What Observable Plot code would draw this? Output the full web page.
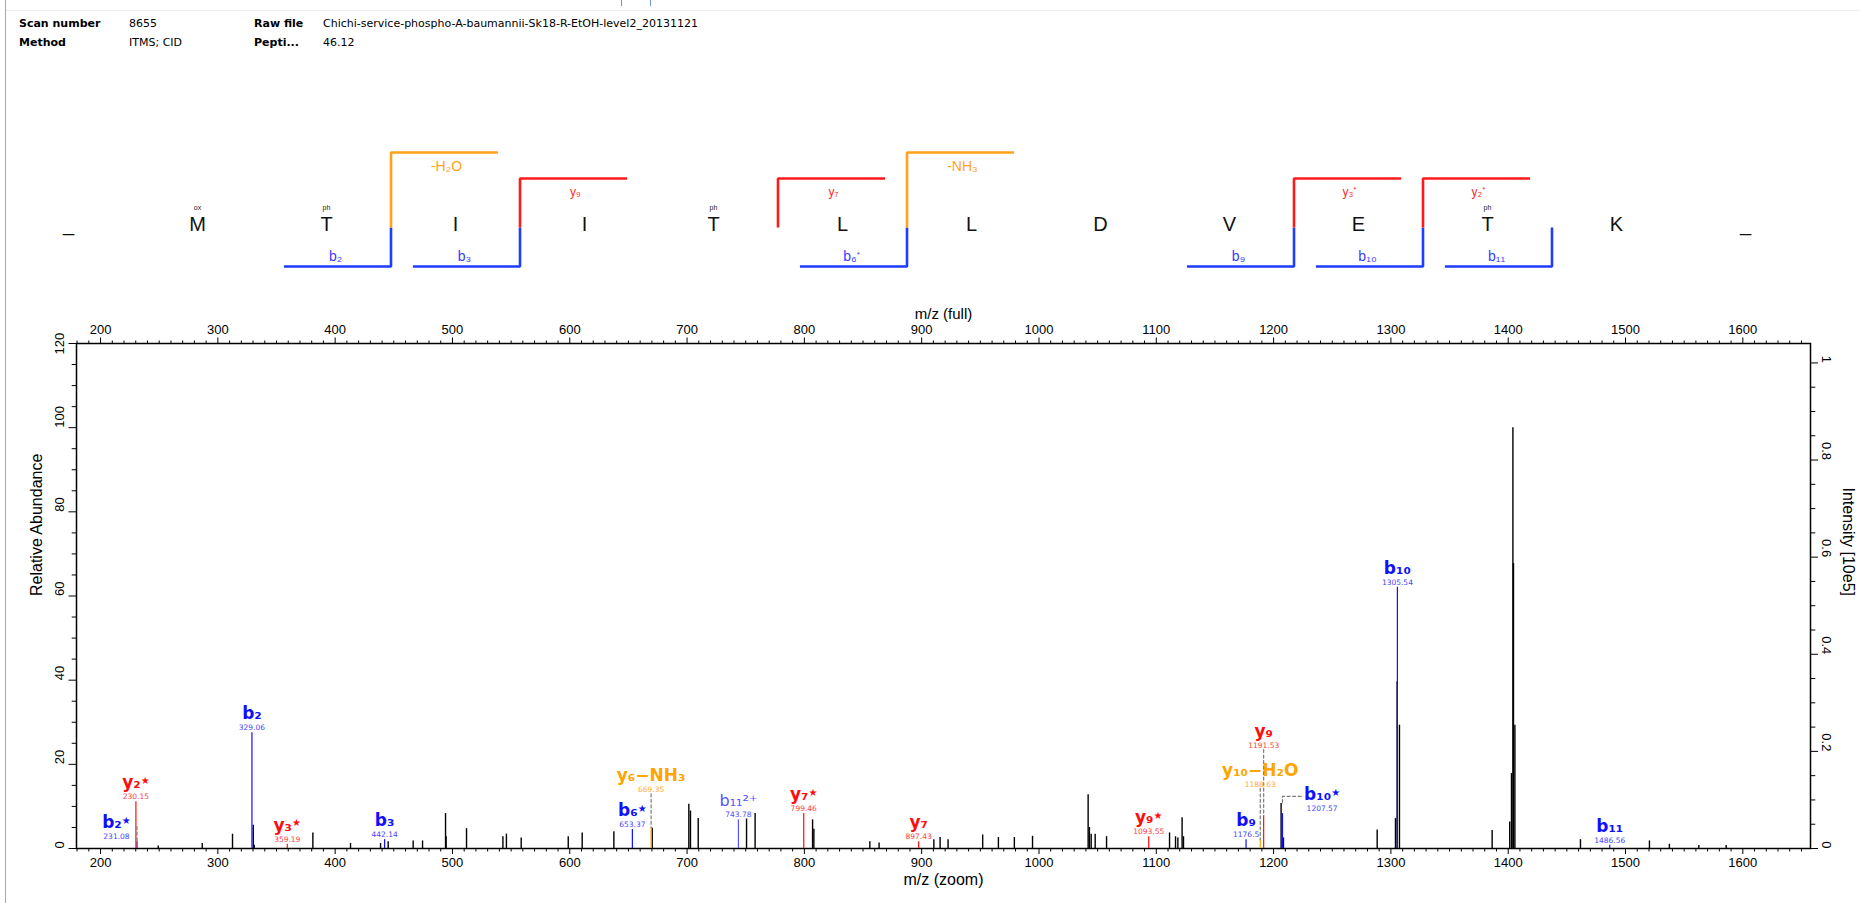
<!DOCTYPE html>
<html><head><meta charset="utf-8">
<script src="https://cdn.jsdelivr.net/npm/d3@7"></script>
<script src="https://cdn.jsdelivr.net/npm/@observablehq/plot@0.6"></script>
<style>
html,body{margin:0;padding:0;background:#fff;}
body{position:relative;width:1860px;height:903px;overflow:hidden;font-family:"DejaVu Sans",sans-serif;}
.deco{position:absolute;}
.hdr{position:absolute;font-size:11px;line-height:14px;white-space:nowrap;color:#000;}
.hdr.lab{font-weight:bold;}
#seq{position:absolute;left:0;top:130px;}
#spec{position:absolute;left:0;top:290px;}
svg{overflow:visible;}
</style></head>
<body>
<div class="deco" style="left:5px;top:0;width:1px;height:903px;background:#a8a8a8"></div>
<div class="deco" style="left:6px;top:10px;width:1854px;height:1px;background:#ececec"></div>
<div class="deco" style="left:621px;top:0;width:1px;height:6px;background:#7090e0"></div>
<div class="deco" style="left:650px;top:0;width:1px;height:6px;background:#7090e0"></div>
<div id="header"></div>
<div id="seq"></div>
<div id="spec"></div>
<script>
// ---------------- DATA ----------------
const headerKeys = ["Scan number", "Raw file", "Method", "Pepti..."];
const headerVals = ["8655", "Chichi-service-phospho-A-baumannii-Sk18-R-EtOH-level2_20131121", "ITMS; CID", "46.12"];

const residues = ["M", "T", "I", "I", "T", "L", "L", "D", "V", "E", "T", "K"];
const termini = ["_", "_"];
const modPositions = [1, 2, 5, 11];
const modNames = ["ox", "ph", "ph", "ph"];
const bSites = [2, 3, 6, 9, 10, 11];
const bSiteNames = ["b₂", "b₃", "b₆*", "b₉", "b₁₀", "b₁₁"];
const ySites = [3, 5, 9, 10];
const ySiteNames = ["y₉", "y₇", "y₃*", "y₂*"];
const lossSites = [2, 6];
const lossSiteNames = ["-H₂O", "-NH₃"];

// unassigned peaks (m/z, relative abundance)
const peakMz = [249.2, 286.7, 312.5, 330.2, 331.0, 381.0, 413.1, 438.7, 445.2, 466.5, 474.5, 494.1, 494.6, 512.0, 543.0, 546.0, 558.6, 598.7, 610.6, 637.6, 670.3, 701.5, 702.9, 709.5, 750.7, 758.0, 807.0, 808.1, 855.8, 863.7, 910.4, 915.7, 922.5, 952.0, 965.4, 979.0, 994.5, 1041.9, 1043.0, 1044.5, 1047.9, 1057.6, 1111.3, 1116.4, 1118.4, 1122.0, 1123.2, 1206.4, 1208.4, 1288.3, 1303.9, 1305.3, 1307.3, 1386.3, 1401.3, 1402.8, 1404.0, 1404.5, 1405.7, 1461.6, 1520.4, 1537.4, 1562.5, 1585.8];
const peakRel = [0.6, 1.2, 3.4, 5.5, 0.8, 3.7, 1.2, 1.2, 1.6, 1.8, 1.8, 8.3, 2.8, 4.7, 2.8, 3.4, 2.5, 2.8, 3.7, 4.0, 4.8, 10.5, 8.9, 7.1, 7.0, 8.3, 6.8, 4.6, 1.6, 1.3, 2.1, 2.6, 2.1, 3.2, 2.6, 2.6, 2.9, 12.8, 5.0, 3.4, 3.4, 2.8, 3.7, 2.8, 2.5, 7.3, 2.8, 10.7, 2.5, 4.4, 7.1, 39.6, 29.3, 4.3, 6.3, 17.8, 100, 67.7, 29.3, 2.1, 1.8, 1.0, 0.7, 0.7];

// assigned fragment ions
const ionNames = ["b₂*", "y₂*", "b₂", "y₃*", "b₃", "b₆*", "y₆−NH₃", "b₁₁²⁺", "y₇*", "y₇", "y₉*", "b₉", "y₁₀−H₂O", "y₉", "b₁₀*", "b₁₀", "b₁₁"];
const ionSeries = ["b", "y", "b", "y", "b", "b", "loss", "b2", "y", "y", "y", "b", "loss", "y", "b", "b", "b"];
const ionMz = [231.08, 230.15, 329.06, 359.19, 442.14, 653.37, 669.35, 743.78, 799.46, 897.43, 1093.55, 1176.5, 1188.63, 1191.53, 1207.57, 1305.54, 1486.56];
const ionRel = [1.6, 11.1, 27.5, 1.0, 2.1, 4.5, 5.0, 6.8, 8.3, 1.6, 2.8, 2.1, 2.1, 7.8, 8.3, 62.1, 0.8];
const ionLabels = ["231.08", "230.15", "329.06", "359.19", "442.14", "653.37", "669.35", "743.78", "799.46", "897.43", "1093.55", "1176.5", "1188.63", "1191.53", "1207.57", "1305.54", "1486.56"];

// axes
const mzMajor = d3.range(200, 1601, 100);
const mzMinor = d3.range(180, 1651, 10).filter(v => v % 100 !== 0);
const relMajor = d3.range(0, 121, 20);
const relMinor = d3.range(0, 121, 5).filter(v => v % 20 !== 0);
const intMajor = [0, 0.2, 0.4, 0.6, 0.8, 1];
const intMinor = [0.05, 0.1, 0.15, 0.25, 0.3, 0.35, 0.45, 0.5, 0.55, 0.65, 0.7, 0.75, 0.85, 0.9, 0.95];
const intensityAtTop = 1.04; // 10e5 units at relative abundance 120

// ---------------- STYLE / LAYOUT ----------------
const BLUE = "#1010ff", RED = "#ff0d0d", ORANGE = "#ffa500";
const nameColor = {b: BLUE, b2: "#5555ff", y: RED, loss: ORANGE};
const valueColor = {b: "#4747ff", b2: "#4f4fff", y: "#ff3c3c", loss: "#ffad2a"};
const toRel = v => v / intensityAtTop * 120;
const plain = d => String(d);

// header
const hdrCols = [[19, 129], [254, 323]];
const hdrRows = [17, 36];
const header = document.getElementById("header");
headerKeys.forEach((k, i) => {
  const row = Math.floor(i / 2), col = i % 2;
  const a = document.createElement("div");
  a.className = "hdr lab"; a.textContent = k;
  a.style.left = hdrCols[col][0] + "px"; a.style.top = hdrRows[row] + "px";
  const b = document.createElement("div");
  b.className = "hdr"; b.textContent = headerVals[i];
  b.style.left = hdrCols[col][1] + "px"; b.style.top = hdrRows[row] + "px";
  header.appendChild(a); header.appendChild(b);
});

// ---------------- SEQUENCE PANEL ----------------
const S = {bBase: 1.4, join: 5.3, yTop: 10.2, lossTop: 12.8, letter: 5.6, mod: 7.3, bLabel: 2.4, yLabel: 8.8, lossLabel: 11.4, arm: 0.83, lab: 0.43};
const BR_BLUE = "#1f3dff", BR_RED = "#ff1a1a", BR_ORANGE = "#ffa31a";
const pathPts = [];
bSites.forEach((k, i) => { const c = k + 0.5; [[c - S.arm, S.bBase], [c, S.bBase], [c, S.join]].forEach(([x, y]) => pathPts.push({id: "b" + i, color: BR_BLUE, x, y})); });
ySites.forEach((k, i) => { const c = k + 0.5; [[c, S.join], [c, S.yTop], [c + S.arm, S.yTop]].forEach(([x, y]) => pathPts.push({id: "y" + i, color: BR_RED, x, y})); });
lossSites.forEach((k, i) => { const c = k + 0.5; [[c, S.join], [c, S.lossTop], [c + S.arm, S.lossTop]].forEach(([x, y]) => pathPts.push({id: "l" + i, color: BR_ORANGE, x, y})); });

const seq = Plot.plot({
  width: 1860, height: 150,
  marginLeft: 68, marginRight: 115, marginTop: 0, marginBottom: 0,
  x: {domain: [0, residues.length + 1], axis: null},
  y: {domain: [0, 15], axis: null},
  color: {type: "identity"},
  style: {fontFamily: "Liberation Sans, Arial, sans-serif", background: "transparent"},
  marks: [
    Plot.line(pathPts, {x: "x", y: "y", z: "id", stroke: "color", strokeWidth: 2.6, strokeLinejoin: "miter", strokeLinecap: "butt"}),
    Plot.text(residues, {x: (d, i) => i + 1, y: () => S.letter, text: d => d, fontSize: 20, fill: "#111"}),
    Plot.text(termini, {x: (d, i) => i === 0 ? 0 : residues.length + 1, y: () => S.letter, text: d => d, fontSize: 20, fill: "#111"}),
    Plot.text(modPositions, {x: d => d, y: () => S.mod, text: (d, i) => modNames[i], fontSize: 7, fill: "#222"}),
    Plot.text(bSites, {x: k => k + 0.5 - S.lab, y: () => S.bLabel, text: (k, i) => bSiteNames[i], fill: "#3b3bff", fontSize: 14, className: "seq-lab"}),
    Plot.text(ySites, {x: k => k + 0.5 + S.lab, y: () => S.yLabel, text: (k, i) => ySiteNames[i], fill: "#ff2a2a", fontSize: 12, className: "seq-lab"}),
    Plot.text(lossSites, {x: k => k + 0.5 + S.lab, y: () => S.lossLabel, text: (k, i) => lossSiteNames[i], fill: "#ffa31a", fontSize: 14, className: "seq-lab"})
  ]
});
document.getElementById("seq").appendChild(seq);

// ---------------- SPECTRUM ----------------
const peaks = peakMz.map((mz, i) => ({mz, rel: peakRel[i]}));
const ions = ionMz.map((mz, i) => ({mz, rel: ionRel[i], series: ionSeries[i], name: ionNames[i], label: ionLabels[i]}));
const pxPerRel = 505 / 120;
const valueGap = 5 / pxPerRel;
const labelTweak = {0: {dmz: -17.5}, 6: {lift: 14.0}, 12: {lift: 15.3}, 13: {lift: 24.5}, 14: {dmz: 33.8}};
ions.forEach((d, i) => {
  const t = labelTweak[i] || {};
  d.lx = d.mz + (t.dmz || 0);
  d.ly = t.lift != null ? t.lift : d.rel + valueGap;
  d.nc = nameColor[d.series];
  d.vc = valueColor[d.series];
});
// dashed leader lines
const leaders = [];
[6, 12, 13].forEach(i => { const d = ions[i]; leaders.push({id: i, x: d.mz, y: d.ly - 1.0}, {id: i, x: d.mz, y: d.rel}); });
{ const d = ions[0]; leaders.push({id: 0, x: d.mz, y: d.rel + 3.6}, {id: 0, x: d.mz, y: d.rel}); }
{ const d = ions[14]; leaders.push({id: 14, x: d.mz + 15.9, y: d.rel + 4.1}, {id: 14, x: d.mz, y: d.rel + 4.1}, {id: 14, x: d.mz, y: d.rel + 2.5}); }

const relTop = relMajor[relMajor.length - 1];
const spec = Plot.plot({
  width: 1860, height: 613,
  marginLeft: 76, marginRight: 50, marginTop: 53, marginBottom: 55,
  x: {domain: [179.5, 1657.7]},
  y: {domain: [0, 120]},
  color: {type: "identity"},
  style: {fontFamily: "Liberation Sans, Arial, sans-serif", fontSize: "13px", color: "#000", background: "transparent"},
  marks: [
    Plot.axisX({anchor: "bottom", ticks: mzMajor, tickSize: 6, tickPadding: 3, tickFormat: plain, label: null}),
    Plot.axisX({anchor: "bottom", ticks: mzMinor, tickSize: 3.5, tickFormat: () => "", label: null}),
    Plot.axisX({anchor: "top", ticks: mzMajor, tickSize: 6.5, tickPadding: 3, tickFormat: plain, label: null}),
    Plot.axisX({anchor: "top", ticks: mzMinor, tickSize: 3.5, tickFormat: () => "", label: null}),
    Plot.axisY({anchor: "left", ticks: relMajor, tickSize: 7.5, tickFormat: () => "", label: null}),
    Plot.axisY({anchor: "left", ticks: relMinor, tickSize: 4.3, tickFormat: () => "", label: null}),
    Plot.text(relMajor.filter(d => d !== relTop), {y: d => d, frameAnchor: "left", dx: -17, rotate: -90, text: plain, fontSize: 13}),
    Plot.text([relTop], {y: d => d, frameAnchor: "left", dx: -17, dy: 11, rotate: -90, text: plain, fontSize: 13}),
    Plot.axisY({anchor: "right", ticks: intMajor.map(toRel), tickSize: 7, tickFormat: () => "", label: null}),
    Plot.axisY({anchor: "right", ticks: intMinor.map(toRel), tickSize: 4.3, tickFormat: () => "", label: null}),
    Plot.text(intMajor, {y: d => toRel(d), frameAnchor: "right", dx: 16, rotate: 90, text: plain, fontSize: 13}),
    Plot.frame({stroke: "#000", strokeWidth: 1.5}),
    Plot.ruleX(peaks, {x: "mz", y1: () => 0, y2: "rel", stroke: "#000", strokeWidth: 1.4}),
    Plot.ruleX(ions, {x: "mz", y1: () => 0, y2: "rel", stroke: "nc", strokeWidth: 1.2}),
    Plot.line(leaders, {x: "x", y: "y", z: "id", stroke: "#7a7a7a", strokeWidth: 1.2, strokeDasharray: "3,2.5"}),
    Plot.text(ions, {x: "lx", y: "ly", text: "label", fill: "vc", fontSize: 7.5, fontFamily: "DejaVu Sans, sans-serif"}),
    Plot.text(ions.filter(d => d.series !== "b2"), {x: "lx", y: "ly", dy: -14, text: "name", fill: "nc", fontSize: 17, fontWeight: "bold", fontFamily: "DejaVu Sans, sans-serif", className: "ion-name"}),
    Plot.text(ions.filter(d => d.series === "b2"), {x: "lx", y: "ly", dy: -14, text: "name", fill: "nc", fontSize: 16, fontFamily: "DejaVu Sans, sans-serif", className: "ion-name"}),
    Plot.text(["m/z (full)"], {frameAnchor: "top", dy: -35, text: d => d, fontSize: 15}),
    Plot.text(["m/z (zoom)"], {frameAnchor: "bottom", dy: 36, text: d => d, fontSize: 16}),
    Plot.text(["Relative Abundance"], {frameAnchor: "left", dx: -40, rotate: -90, text: d => d, fontSize: 16}),
    Plot.text(["Intensity [10e5]"], {frameAnchor: "right", dx: 38, rotate: 90, text: d => d, fontSize: 16})
  ]
});
document.getElementById("spec").appendChild(spec);

// raise the stars on ion names
function decorateStars(root, selector, glyph, size, shift) {
  root.querySelectorAll(selector).forEach(t => {
    const s = t.textContent;
    if (!s.includes("*")) return;
    t.textContent = s.replace("*", "");
    const ts = document.createElementNS("http://www.w3.org/2000/svg", "tspan");
    ts.setAttribute("font-size", size);
    ts.setAttribute("dy", shift);
    ts.textContent = glyph;
    t.appendChild(ts);
  });
}
decorateStars(spec, "g.ion-name text", "★", 10, "-0.45em");
decorateStars(seq, "g.seq-lab text", "*", 8, "-0.5em");
</script>
</body></html>
